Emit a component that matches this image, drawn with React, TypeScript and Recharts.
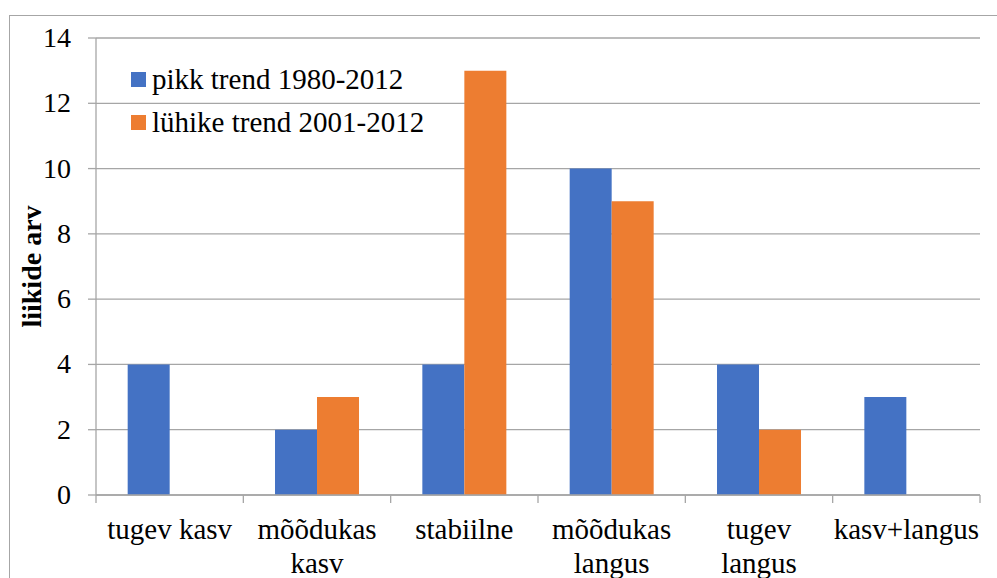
import { BarChart, Bar, XAxis, YAxis, CartesianGrid, Legend } from "recharts";

const categories = ["tugev kasv", "mõõdukas\nkasv", "stabiilne", "mõõdukas\nlangus", "tugev\nlangus", "kasv+langus"];
const longTrend = [4, 2, 4, 10, 4, 3];
const shortTrend = [0, 3, 13, 9, 2, 0];
const yTicks = [0, 2, 4, 6, 8, 10, 12, 14];

const seriesNames = ["pikk trend 1980-2012", "lühike trend 2001-2012"];
const seriesColors = ["#4472C4", "#ED7D31"];

const data = categories.map((name, i) => ({
  name,
  long: longTrend[i],
  short: shortTrend[i],
}));

const FONT = "'Liberation Serif', 'Times New Roman', serif";
const GRID = "#a6a6a6";
const W = 997;
const H = 578;
const MARGIN = { top: 38, right: 17, bottom: 0, left: 10 };
const Y_WIDTH = 86;
const PLOT_W = W - MARGIN.left - MARGIN.right - Y_WIDTH;
const BAND = PLOT_W / categories.length;

function XTick(props: any) {
  const { x, y, payload, index } = props;
  const lines = String(payload.value).split("\n");
  const left = x - BAND / 2;
  const right = x + BAND / 2;
  return (
    <g>
      <line x1={left} x2={left} y1={y} y2={y + 8} stroke={GRID} strokeWidth={1.3} />
      {index === categories.length - 1 && (
        <line x1={right} x2={right} y1={y} y2={y + 8} stroke={GRID} strokeWidth={1.3} />
      )}
      <text x={x} y={y + 44} textAnchor="middle" style={{ fontFamily: FONT }} fontSize={29} fill="#000">
        {lines.map((l, i) => (
          <tspan key={i} x={x} dy={i === 0 ? 0 : 34}>
            {l}
          </tspan>
        ))}
      </text>
    </g>
  );
}

function YTick(props: any) {
  const { x, y, payload } = props;
  return (
    <text x={x} y={y} dy={9} textAnchor="end" style={{ fontFamily: FONT }} fontSize={28} fill="#000">
      {payload.value}
    </text>
  );
}

function YLabel(props: any) {
  const vb = props.viewBox || {};
  const cx = vb.x + 31;
  const cy = vb.y + vb.height / 2;
  return (
    <text
      x={cx}
      y={cy}
      transform={`rotate(-90, ${cx}, ${cy})`}
      textAnchor="middle"
      style={{ fontFamily: FONT }}
      fontSize={28}
      fontWeight="bold"
      fill="#000"
    >
      liikide arv
    </text>
  );
}

function LegendBox() {
  return (
    <div style={{ fontFamily: FONT, fontSize: 29, color: "#000" }}>
      {seriesNames.map((name, i) => (
        <div key={name} style={{ position: "relative", height: 43, lineHeight: "43px", whiteSpace: "nowrap" }}>
          <span
            style={{
              position: "absolute",
              left: 0,
              top: 14,
              width: 15,
              height: 15,
              background: seriesColors[i],
            }}
          />
          <span style={{ position: "absolute", left: 21, top: 0 }}>{name}</span>
        </div>
      ))}
    </div>
  );
}

export default function App() {
  return (
    <div style={{ position: "absolute", left: 0, top: 0, width: W, height: H, overflow: "hidden", background: "#fff" }}>
      <div
        style={{
          position: "absolute",
          left: 9,
          top: 15,
          width: W + 20,
          height: H + 20,
          border: `1.5px solid ${GRID}`,
          boxSizing: "border-box",
        }}
      />
      <div style={{ position: "absolute", left: 0, top: 0 }}>
        <BarChart
          width={W}
          height={H}
          data={data}
          margin={MARGIN}
          barCategoryGap="21.5%"
          barGap={0}
        >
          <CartesianGrid vertical={false} stroke={GRID} strokeWidth={1.3} />
          <XAxis
            dataKey="name"
            height={83}
            tick={<XTick />}
            tickLine={false}
            tickSize={0}
            tickMargin={0}
            interval={0}
            axisLine={{ stroke: GRID, strokeWidth: 1.3 }}
          />
          <YAxis
            width={Y_WIDTH}
            domain={[0, 14]}
            ticks={yTicks}
            tickSize={8}
            tickMargin={17}
            tick={<YTick />}
            tickLine={{ stroke: GRID, strokeWidth: 1.3 }}
            axisLine={{ stroke: GRID, strokeWidth: 1.3 }}
            label={<YLabel />}
          />
          <Legend
            layout="horizontal"
            verticalAlign="middle"
            align="center"
            content={<LegendBox />}
            wrapperStyle={{ left: 131, top: 58, width: 340, height: 86 }}
          />
          <Bar dataKey="long" name={seriesNames[0]} fill={seriesColors[0]} isAnimationActive={false} />
          <Bar dataKey="short" name={seriesNames[1]} fill={seriesColors[1]} isAnimationActive={false} />
        </BarChart>
      </div>
    </div>
  );
}
